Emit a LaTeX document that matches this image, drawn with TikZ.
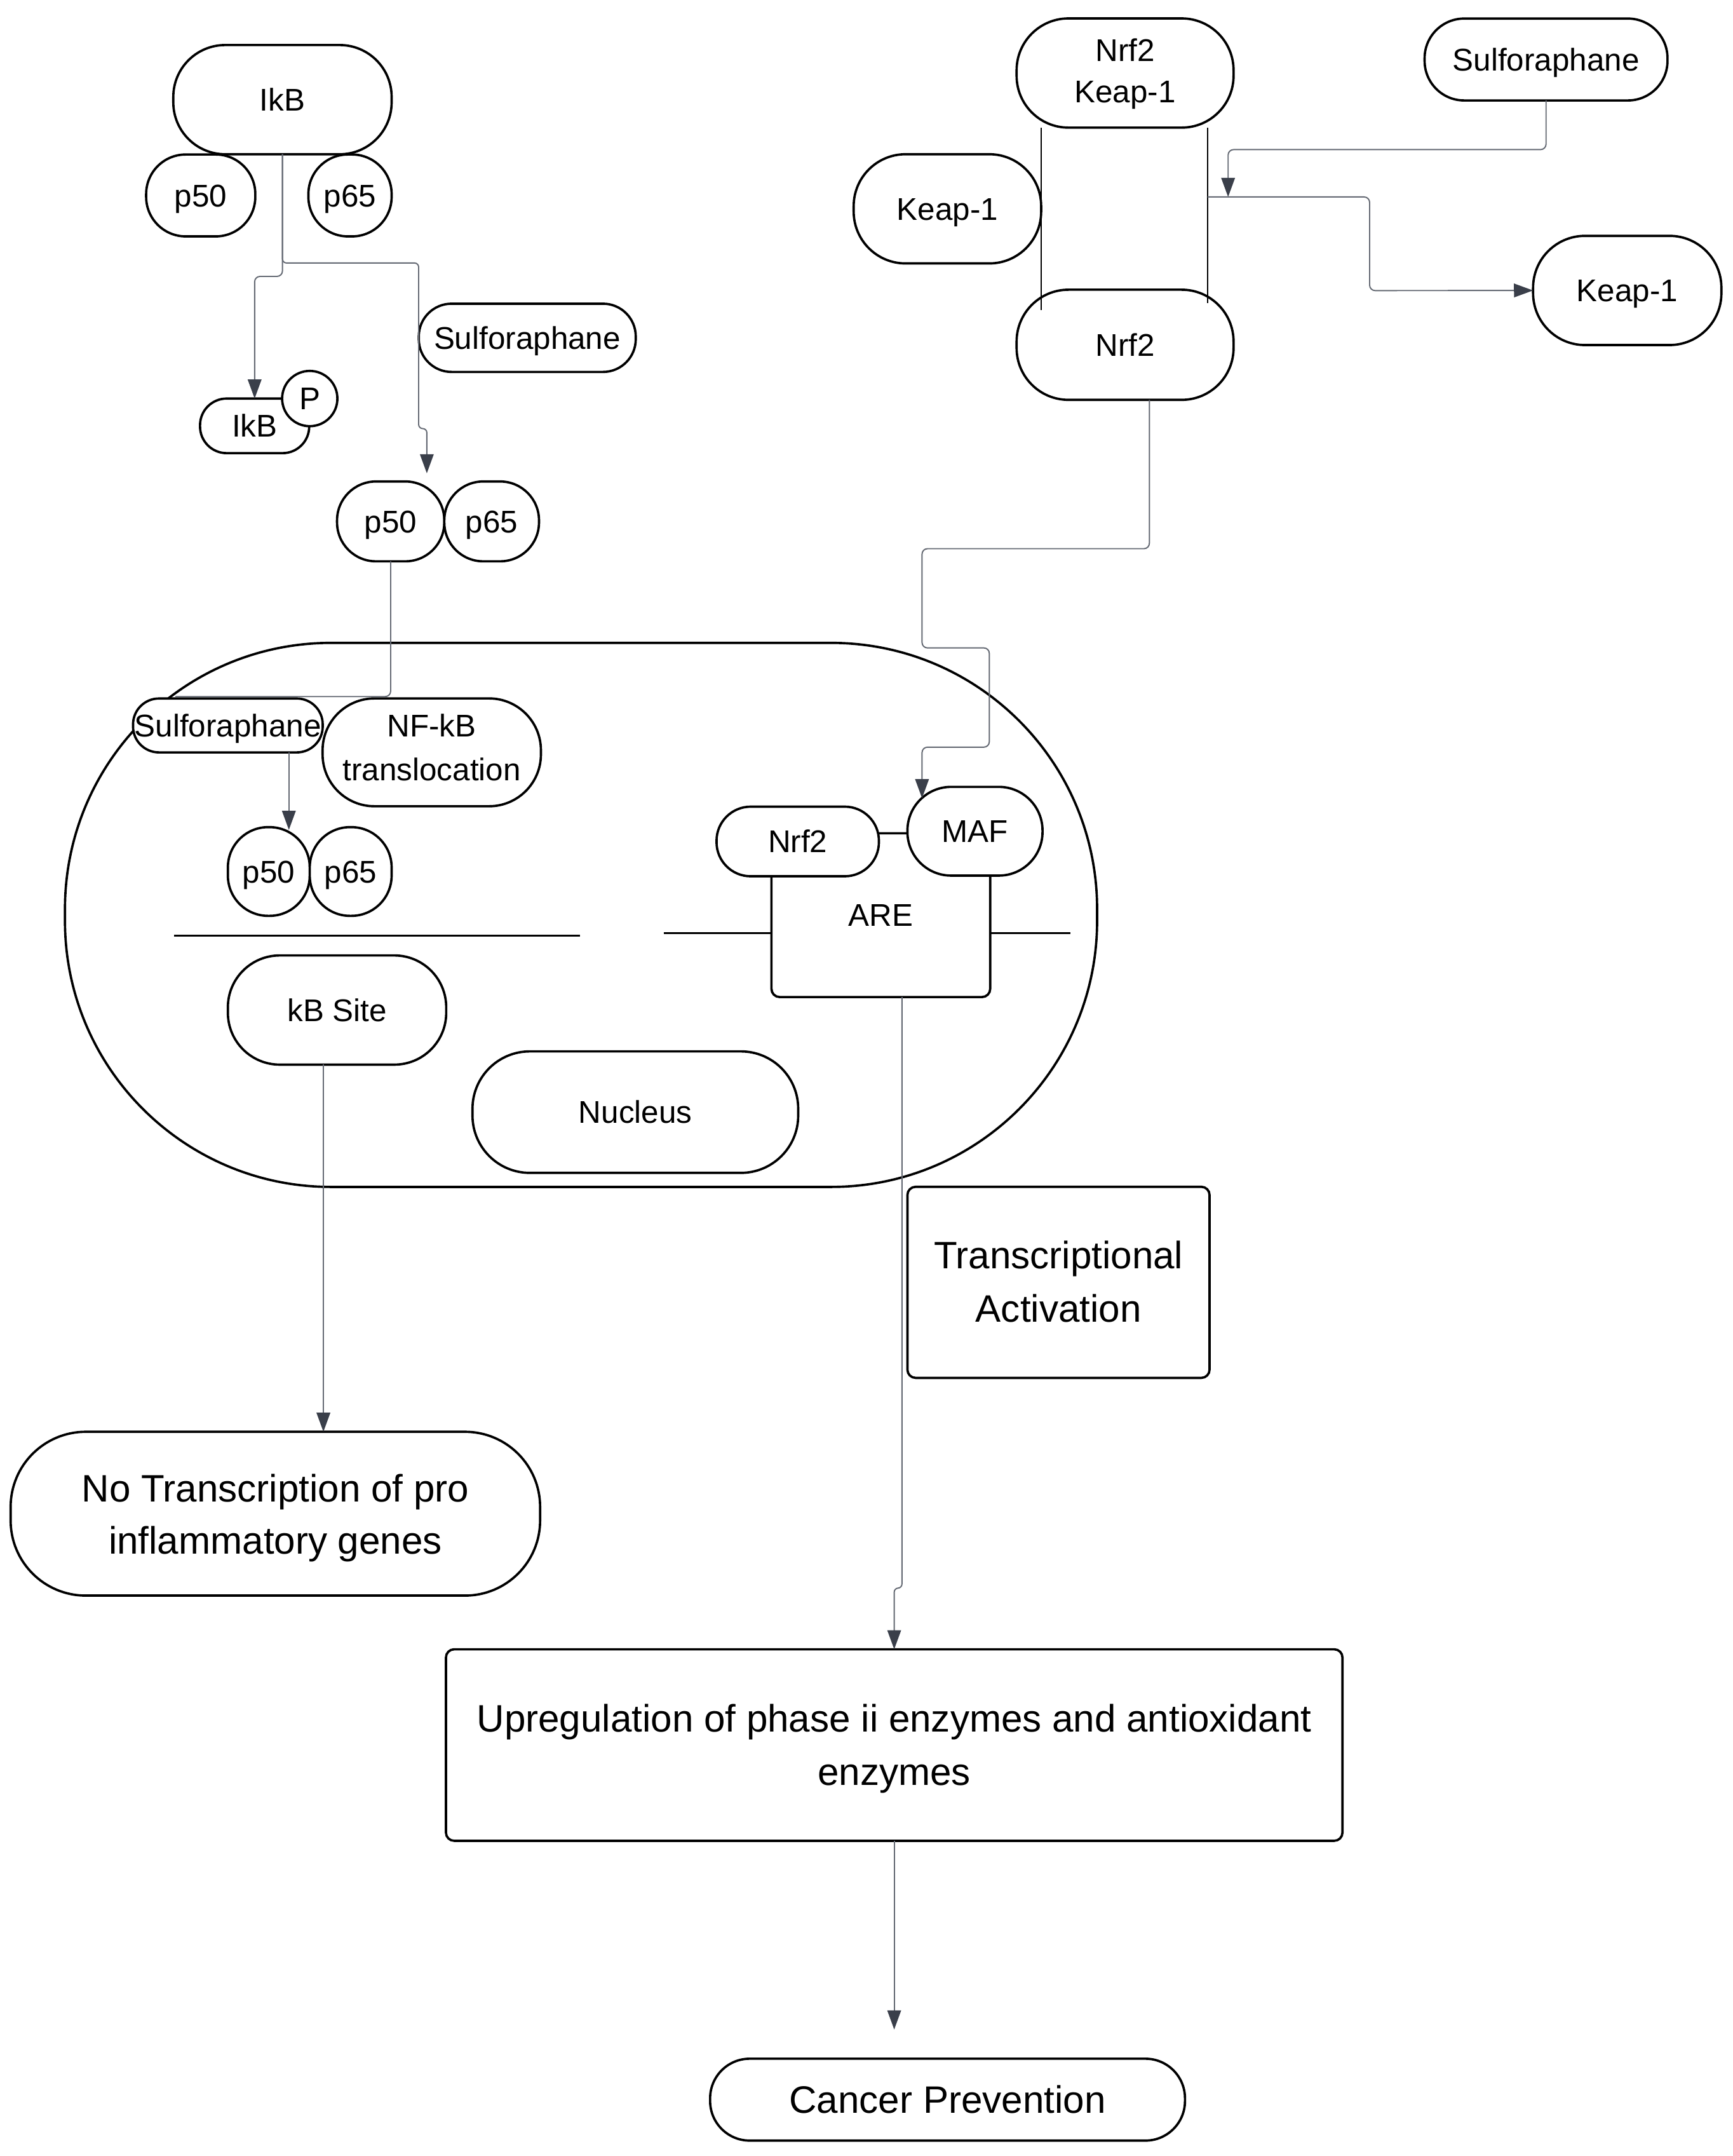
\documentclass[tikz,border=0pt]{standalone}
\usepackage{fontspec}
\setmainfont{Liberation Sans}
\usetikzlibrary{arrows.meta,calc}
\definecolor{conncol}{RGB}{100,105,115}
\definecolor{tipcol}{RGB}{58,63,74}
\begin{document}
\begin{tikzpicture}[x=1pt,y=-1pt,
  every node/.style={inner sep=0pt, outer sep=0pt},
  box/.style={draw=black, line width=1.7pt, fill=white},
  sm/.style={font=\fontsize{23}{32}\selectfont, text height=16.5pt, text depth=0pt},
  bg/.style={font=\fontsize{28}{39.5}\selectfont, text height=20pt, text depth=0pt},
  ln/.style={anchor=base, font=\fontsize{23}{32}\selectfont},
  lnb/.style={anchor=base, font=\fontsize{28}{39.5}\selectfont},
  conn/.style={draw=conncol, line width=0.9pt, rounded corners=4pt},
  arr/.style={conn, -{Triangle[length=14pt,width=10pt,color=tipcol]}},
  dna/.style={draw=black, line width=1.7pt}]
\fill[white] (0,0) rectangle (1270,1579.6);
\useasboundingbox (0,0) rectangle (1270,1579.6);

% outer cell
\node[box, minimum width=756.4pt, minimum height=398.6pt, rounded corners=195pt] (cell) at (425.8,670.3) {};

% NF-kB side (top left)
\node[box, sm, minimum width=160pt, minimum height=80pt, rounded corners=38pt] (ikb) at (207,73) {IkB};
\node[box, sm, minimum width=80pt, minimum height=60pt, rounded corners=29pt] (p50a) at (147.1,143.2) {p50};
\node[box, sm, minimum width=61pt, minimum height=60pt, rounded corners=29pt] (p65a) at (256.5,143.2) {p65};
\node[box, sm, minimum width=80pt, minimum height=40pt, rounded corners=19.5pt] (ikbp) at (186.6,312) {IkB};
\node[box, sm, circle, minimum size=40.5pt] (pc) at (227,292) {P};
\node[box, sm, minimum width=159pt, minimum height=50pt, rounded corners=24pt] (sulfa) at (386.4,247.5) {Sulforaphane};
\node[box, sm, minimum width=78.6pt, minimum height=58.5pt, rounded corners=28.5pt] (p50b) at (286.3,382) {p50};
\node[box, sm, minimum width=69.4pt, minimum height=58.5pt, rounded corners=28.5pt] (p65b) at (360.3,382) {p65};

% inside cell, left
\node[box, sm, minimum width=139pt, minimum height=39.5pt, rounded corners=19pt] (sulfb) at (167,531.5) {Sulforaphane};
\node[box, minimum width=160pt, minimum height=79pt, rounded corners=38pt] (nfkb) at (316.4,551.2) {};
\node[ln] (nfkb1) at (316.4,540) {NF-kB};
\node[ln] (nfkb2) at (316.4,572) {translocation};
\node[box, sm, minimum width=60pt, minimum height=65pt, rounded corners=29.5pt] (p50c) at (197,638.5) {p50};
\node[box, sm, minimum width=60pt, minimum height=65pt, rounded corners=29.5pt] (p65c) at (257,638.5) {p65};
\draw[dna] (127.7,685.5) -- (425,685.5);
\node[box, sm, minimum width=160pt, minimum height=80pt, rounded corners=38pt] (kbsite) at (247,740) {kB Site};
\node[box, sm, minimum width=238.7pt, minimum height=89pt, rounded corners=42pt] (nucleus) at (465.6,814.8) {Nucleus};

% inside cell, right
\node[box, sm, minimum width=160.3pt, minimum height=120pt, rounded corners=6pt] (are) at (645.5,670.5) {ARE};
\node[box, sm, minimum width=119pt, minimum height=51pt, rounded corners=25pt] (nrf2c) at (584.6,616.5) {Nrf2};
\node[box, sm, minimum width=99pt, minimum height=65pt, rounded corners=32pt] (maf) at (714.5,609) {MAF};
\draw[dna] (486.4,683.6) -- ([yshift=-13.1pt]are.west);
\draw[dna] ([yshift=-13.1pt]are.east) -- (784.5,683.6);

% Nrf2 side (top right)
\node[box, minimum width=159pt, minimum height=80pt, rounded corners=38pt] (nk) at (824.5,53.5) {};
\node[ln] (nk1) at (824.5,44.9) {Nrf2};
\node[ln] (nk2) at (824.5,75.3) {Keap-1};
\node[box, sm, minimum width=137.4pt, minimum height=80pt, rounded corners=38pt] (keapl) at (694.3,153) {Keap-1};
\node[box, sm, minimum width=159pt, minimum height=80.7pt, rounded corners=38pt] (nrf2b) at (824.5,252.6) {Nrf2};
\node[box, sm, minimum width=178pt, minimum height=60pt, rounded corners=29pt] (sulfc) at (1133,43.6) {Sulforaphane};
\node[box, sm, minimum width=138pt, minimum height=80pt, rounded corners=38pt] (keapr) at (1192.5,212.8) {Keap-1};
\draw[line width=1.3pt] ([xshift=18pt]nk.south west) -- ([xshift=18pt,yshift=-15pt]nrf2b.north west);
\draw[line width=1.3pt] ([xshift=-19pt]nk.south east) -- ([xshift=-19pt,yshift=-9.7pt]nrf2b.north east);
\coordinate (hub) at (885,144.3);

% lower boxes
\node[box, minimum width=221.4pt, minimum height=140pt, rounded corners=6pt] (trans) at (775.7,939.5) {};
\node[lnb] (trans1) at (775.7,929.5) {Transcriptional};
\node[lnb] (trans2) at (775.7,968.5) {Activation};
\node[box, minimum width=388pt, minimum height=120pt, rounded corners=55pt] (notrans) at (201.8,1109) {};
\node[lnb] (notrans1) at (201.8,1100.5) {No Transcription of pro};
\node[lnb] (notrans2) at (201.8,1138.5) {inflammatory genes};
\node[box, minimum width=657pt, minimum height=140.3pt, rounded corners=6pt] (up) at (655.3,1278.5) {};
\node[lnb] (up1) at (655.3,1268.6) {Upregulation of phase ii enzymes and antioxidant};
\node[lnb] (up2) at (655.3,1308) {enzymes};
\node[box, bg, minimum width=348pt, minimum height=60pt, rounded corners=29pt] (cancer) at (694.4,1538.3) {Cancer Prevention};

% connectors
\draw[arr] (ikb.south) -- (207,202.5) -| (ikbp.north);
\draw[arr, rounded corners=3pt] (ikb.south) -- (207,192.7) -- (306.8,192.7) -- (306.8,314) -| ([xshift=-12.8pt,yshift=6pt]p50b.north east);
\draw[conn] (p50b.south) |- ([xshift=31pt,yshift=1.4pt]sulfb.north west);
\draw[arr] ([xshift=14.7pt]p50c.north |- sulfb.south) -- ([xshift=14.7pt,yshift=-2pt]p50c.north);
\draw[arr] ([xshift=-10pt]kbsite.south) -- ([xshift=-10pt]kbsite.south |- notrans.north);
\draw[arr, rounded corners=3pt] ([xshift=15.5pt]are.south) -- ++(0,433) -| (up.north);
\draw[arr] (up.south) -- ([yshift=21.4pt]up.south |- cancer.north);
\draw[arr] ([xshift=17.8pt]nrf2b.south) -- (842.3,402) -- (675.7,402) -- (675.7,474.7) -- (725,474.7) -- (725,547.4) -- (675.7,547.4) -- ([xshift=10.7pt,yshift=-8.3pt]maf.north west);
\draw[arr] (sulfc.south) -- (1133,109.6) -- (900,109.6) -- ([xshift=15pt]hub);
\draw[arr] (hub) -- (1003.7,144.3) -- (1003.7,212.9) -- (keapr.west);
\end{tikzpicture}
\end{document}
